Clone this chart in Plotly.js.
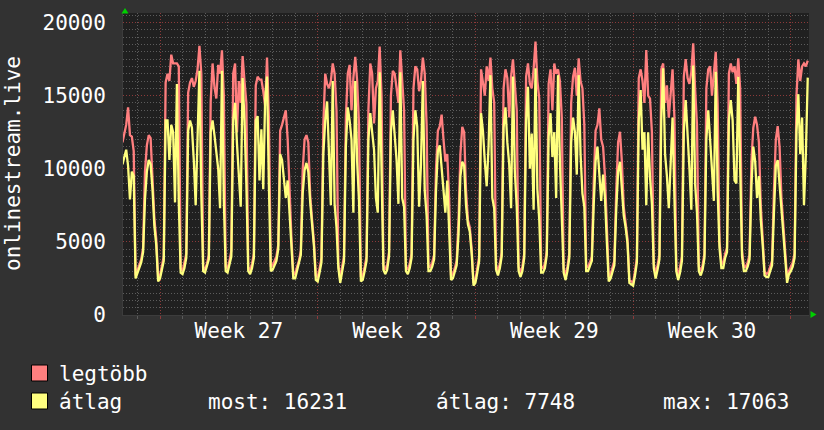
<!DOCTYPE html>
<html><head><meta charset="utf-8">
<script src="https://cdn.plot.ly/plotly-3.0.1.min.js"></script>
<style>html,body{margin:0;padding:0;background:#323232;} #chart{width:824px;height:430px;}</style>
</head><body><div id="chart"></div>
<script>
// time: days relative to Monday 00:00 of Week 27, one sample every 2 hours
const startDay = -2 + 8 / 24;
const stepDays = 2 / 24;
const seriesNames = ['legtöbb', 'átlag'];
const legtobb = [
  11800, 12400, 13000, 14200, 12300, 12200, 11200, 2700,
  3100, 3500, 3800, 4600, 9800, 11600, 12300, 12100, 9400, 6600, 5200, 2600,
  2700, 3300, 4000, 15900, 16500, 16000, 17800, 17200, 17200, 17200, 17000, 3200,
  3000, 3500, 4200, 15200, 15900, 16200, 15600, 16000, 16800, 18400, 16500, 3300,
  3100, 3500, 4100, 14600, 17200, 15600, 14800, 17100, 16500, 18100, 15000, 3300,
  3200, 3700, 4400, 16500, 17200, 12500, 16000, 14500, 17700, 16000, 14500, 3300,
  3000, 3500, 4200, 15700, 16300, 16100, 16100, 15300, 14300, 17600, 13500, 3300,
  3400, 3700, 4000, 4800, 12600, 13000, 13500, 14000, 12000, 8000, 5300, 2800,
  2800, 3300, 3700, 4400, 9900, 12000, 12300, 11800, 8200, 6500, 5000, 2700,
  2600, 3200, 3900, 13000, 16500, 15800, 15500, 16000, 17200, 16500, 14000, 3500,
  2400, 3300, 4000, 13500, 16500, 17100, 14000, 16200, 17660, 16000, 13000, 2600,
  2700, 3300, 4000, 14000, 17200, 16500, 13100, 15500, 16000, 18350, 15000, 3400,
  3100, 3400, 4300, 15000, 16700, 16500, 15500, 14500, 18100, 15800, 14000, 3300,
  3100, 3500, 4200, 15500, 17000, 16800, 15300, 16000, 17600, 16500, 13000, 3300,
  3300, 3600, 4100, 10000, 12600, 12900, 13700, 12000, 10500, 11000, 8000, 2700,
  2800, 3200, 3700, 6500, 11000, 12870, 12500, 8500, 6500, 6000, 4500, 2200,
  2400, 3200, 4000, 16800, 16000, 15000, 17000, 16000, 17600, 15500, 14500, 3400,
  3000, 3500, 4300, 15500, 16800, 16200, 13500, 16300, 17480, 15500, 14000, 3300,
  2900, 3300, 4200, 16300, 17200, 15800, 15500, 16800, 18690, 16000, 14800, 3300,
  3200, 3500, 4400, 15800, 16800, 14000, 17200, 16500, 16800, 16000, 13500, 3200,
  2700, 3300, 4200, 14500, 16300, 16900, 15000, 17550, 16000, 15500, 13000, 3300,
  3300, 3600, 4000, 9000, 12600, 13000, 14130, 12000, 11500, 9500, 6000, 2600,
  2800, 3200, 3700, 8500, 11800, 12530, 10500, 7400, 6300, 5200, 2400, 2300,
  2200, 3000, 3900, 16200, 16800, 16000, 14500, 18120, 15000, 14800, 12500, 3500,
  2800, 3400, 4100, 16800, 17200, 14500, 15700, 13500, 15000, 16800, 13500, 3300,
  2600, 3200, 4000, 16300, 17500, 16200, 15800, 16600, 18580, 15500, 13000, 3300,
  3000, 3400, 4200, 15500, 16800, 17000, 15000, 16500, 18000, 14500, 5000, 3600,
  3500, 4200, 4600, 16500, 17200, 16600, 17000, 15800, 17550, 15500, 4400, 3300,
  3300, 3600, 4100, 10500, 12800, 13560, 13000, 11800, 7500, 5200, 3000, 2800,
  2900, 3300, 3700, 8500, 12000, 12920, 11500, 8000, 5900, 4500, 2500, 3000,
  3300, 3600, 4200, 15000, 17480, 16000, 17000, 17200, 17000, 17400
];
const atlag = [
  10300, 10900, 11300, 10200, 7900, 9800, 9500, 2500,
  2900, 3300, 3600, 4300, 7900, 9800, 10600, 10300, 8600, 6100, 4800, 2300,
  2500, 3100, 3700, 13300, 13300, 10600, 13000, 12500, 7700, 15800, 7700, 2900,
  2800, 3200, 3900, 12600, 13300, 12800, 10600, 7500, 12000, 16700, 8200, 3000,
  2900, 3300, 3800, 12500, 13300, 12300, 11000, 10000, 7300, 16700, 7800, 3000,
  2900, 3400, 4000, 13300, 14500, 11700, 9700, 7400, 16200, 13300, 8900, 3000,
  2800, 3200, 3900, 13300, 13600, 9200, 12700, 8600, 14700, 16300, 8900, 3000,
  3100, 3400, 3700, 4500, 11000, 10600, 9500, 8000, 9200, 7200, 5000, 2500,
  2500, 3000, 3400, 4100, 8300, 9900, 10400, 9800, 7700, 6100, 4700, 2400,
  2300, 2900, 3600, 11000, 13300, 14600, 11500, 7500, 16000, 7600, 6000, 3200,
  2200, 3000, 3700, 11500, 14200, 13300, 12000, 7000, 16000, 10500, 7800, 2300,
  2400, 3000, 3700, 12000, 13800, 12500, 11300, 8000, 7000, 16600, 9500, 3100,
  2800, 3100, 4000, 12500, 14000, 12100, 10600, 7600, 16600, 8000, 7400, 3000,
  2800, 3200, 3900, 12000, 14000, 12900, 7400, 10300, 16000, 8500, 6800, 3000,
  3000, 3300, 3800, 8500, 11200, 11600, 10000, 8800, 7000, 9200, 6000, 2400,
  2500, 2900, 3400, 5500, 9500, 10480, 10200, 7500, 6200, 5700, 4200, 2000,
  2200, 2900, 3700, 13800, 12600, 10500, 8800, 11500, 16400, 8000, 7300, 3100,
  2700, 3200, 4000, 12800, 14200, 11800, 10300, 7300, 16300, 9800, 7400, 3000,
  2600, 3000, 3900, 13300, 15600, 10000, 12400, 7200, 16870, 8600, 6500, 2900,
  2900, 3200, 4100, 12200, 13800, 10800, 12500, 8000, 16400, 10500, 7300, 2900,
  2400, 3000, 3900, 11800, 13500, 12500, 9600, 16400, 11000, 8300, 7400, 3000,
  3000, 3300, 3700, 7500, 10500, 11510, 9500, 7800, 9600, 8000, 5000, 2300,
  2500, 2900, 3400, 7200, 9800, 10480, 8500, 6800, 6000, 4900, 2200, 2100,
  2000, 2700, 3600, 13300, 15380, 11300, 12500, 7500, 12500, 9400, 7600, 3200,
  2500, 3100, 3800, 13300, 16870, 11000, 9500, 7300, 10500, 13500, 8000, 3000,
  2400, 2900, 3700, 12500, 14700, 12700, 10000, 7200, 17063, 9000, 7000, 3000,
  2700, 3100, 3900, 12000, 14000, 12000, 10200, 7800, 16640, 8500, 4600, 3200,
  3200, 3900, 4300, 13300, 14700, 13300, 9200, 9000, 16290, 9600, 4000, 3000,
  3000, 3300, 3800, 8800, 11510, 10500, 8000, 9500, 6500, 4800, 2700, 2600,
  2600, 3000, 3400, 7000, 10200, 10600, 9000, 7000, 5500, 4200, 2200, 2800,
  3000, 3300, 3900, 12500, 15100, 11000, 13500, 7500, 11000, 16231
];
const weekLabels = ['Week 27', 'Week 28', 'Week 29', 'Week 30'];
const weekCenters = [3.5, 10.5, 17.5, 24.5];
const weekStarts = [0, 7, 14, 21, 28];
const yTicks = [0, 5000, 10000, 15000, 20000];
const statLabels = ['most:', 'átlag:', 'max:'];
const statValues = [16231, 7748, 17063];
const colors = ['#ff7f7f', '#ffff7f'];

const W = 824, H = 430, L = 123, R = 15, T = 13, B = 115;
const PW = W - L - R, PH = H - T - B;
const px = x => (x - L) / PW;
const py = y => (H - B - y) / PH;
const FONT = 'DejaVu Sans Mono';
const xRange = [(L - 160) / 22.53, (W - R - 160) / 22.53];

const xs = legtobb.map((_, i) => startDay + i * stepDays);

const traces = [
  {x: xs, y: legtobb, type: 'scatter', mode: 'lines', name: seriesNames[0],
   line: {color: colors[0], width: 2.3}, hoverinfo: 'skip'},
  {x: xs, y: atlag, type: 'scatter', mode: 'lines', name: seriesNames[1],
   line: {color: colors[1], width: 2.3}, hoverinfo: 'skip'},
  {x: weekStarts, y: weekStarts.map(() => null), xaxis: 'x2', type: 'scatter', mode: 'lines',
   showlegend: false, hoverinfo: 'skip'}
];

const gridDash = '1px,2px';
const minorGrid = '#5c5c5c';
const majorGrid = '#8c3a3a';
const textColor = '#ffffff';
const layout = {
  width: W, height: H,
  margin: {l: L, r: R, t: T, b: B, pad: 0},
  paper_bgcolor: '#323232', plot_bgcolor: '#202020',
  showlegend: false,
  font: {family: FONT, size: 21, color: textColor},
  xaxis: {
    range: xRange, tickmode: 'array', tickvals: weekCenters, ticktext: weekLabels,
    ticks: '', showgrid: false, zeroline: false, showline: true, linecolor: '#3c3c3c', linewidth: 1,
    tickfont: {family: FONT, size: 21, color: textColor}, ticklabelstandoff: -3,
    minor: {tickmode: 'linear', tick0: 0, dtick: 1, showgrid: true, gridcolor: minorGrid,
            griddash: gridDash, gridwidth: 1, ticks: 'outside', ticklen: 3, tickcolor: '#5a5a5a'},
    fixedrange: true
  },
  xaxis2: {
    overlaying: 'x', range: xRange, tickmode: 'array', tickvals: weekStarts,
    showticklabels: false, showgrid: true, gridcolor: majorGrid, griddash: gridDash, gridwidth: 1,
    ticks: 'outside', ticklen: 3, tickcolor: '#8c3a3a', zeroline: false, side: 'bottom', fixedrange: true
  },
  yaxis: {
    range: [0, 20650], tickmode: 'array', tickvals: yTicks, ticktext: yTicks.map(String),
    showgrid: true, gridcolor: majorGrid, griddash: gridDash, gridwidth: 1,
    minor: {tickmode: 'linear', tick0: 0, dtick: 500, showgrid: true, gridcolor: minorGrid,
            griddash: gridDash, gridwidth: 1},
    zeroline: false, showline: true, linecolor: '#3c3c3c', linewidth: 1, ticks: '',
    ticklabelstandoff: 12, tickfont: {family: FONT, size: 21, color: textColor}, fixedrange: true
  },
  shapes: [
    {type: 'rect', xref: 'paper', yref: 'paper', x0: px(31.5), x1: px(47.5), y0: py(381), y1: py(365),
     fillcolor: colors[0], line: {color: '#000000', width: 1}},
    {type: 'rect', xref: 'paper', yref: 'paper', x0: px(31.5), x1: px(47.5), y0: py(409), y1: py(393),
     fillcolor: colors[1], line: {color: '#000000', width: 1}},
    {type: 'path', xref: 'paper', yref: 'paper',
     path: `M ${px(121.5)} ${py(13.5)} L ${px(128.5)} ${py(13.5)} L ${px(125)} ${py(8)} Z`,
     fillcolor: '#00d000', line: {width: 0}},
    {type: 'path', xref: 'paper', yref: 'paper',
     path: `M ${px(810.5)} ${py(311)} L ${px(810.5)} ${py(318)} L ${px(816.5)} ${py(314.5)} Z`,
     fillcolor: '#00d000', line: {width: 0}}
  ],
  annotations: [
    {text: 'onlinestream.live', xref: 'paper', yref: 'paper', x: px(13), y: 0.5,
     textangle: -90, showarrow: false, xanchor: 'center', yanchor: 'middle',
     font: {family: FONT, size: 21, color: textColor}},
    {text: seriesNames[0], xref: 'paper', yref: 'paper', x: px(57), y: py(374),
     showarrow: false, xanchor: 'left', yanchor: 'middle', font: {family: FONT, size: 21, color: textColor}},
    {text: seriesNames[1], xref: 'paper', yref: 'paper', x: px(57), y: py(402),
     showarrow: false, xanchor: 'left', yanchor: 'middle', font: {family: FONT, size: 21, color: textColor}},
    {text: statLabels[0] + ' ' + statValues[0], xref: 'paper', yref: 'paper', x: px(206), y: py(402),
     showarrow: false, xanchor: 'left', yanchor: 'middle', font: {family: FONT, size: 21, color: textColor}},
    {text: statLabels[1] + ' ' + statValues[1], xref: 'paper', yref: 'paper', x: px(434), y: py(402),
     showarrow: false, xanchor: 'left', yanchor: 'middle', font: {family: FONT, size: 21, color: textColor}},
    {text: statLabels[2] + ' ' + statValues[2], xref: 'paper', yref: 'paper', x: px(661), y: py(402),
     showarrow: false, xanchor: 'left', yanchor: 'middle', font: {family: FONT, size: 21, color: textColor}}
  ]
};

Plotly.newPlot('chart', traces, layout, {staticPlot: true, displayModeBar: false});
</script>
</body></html>
